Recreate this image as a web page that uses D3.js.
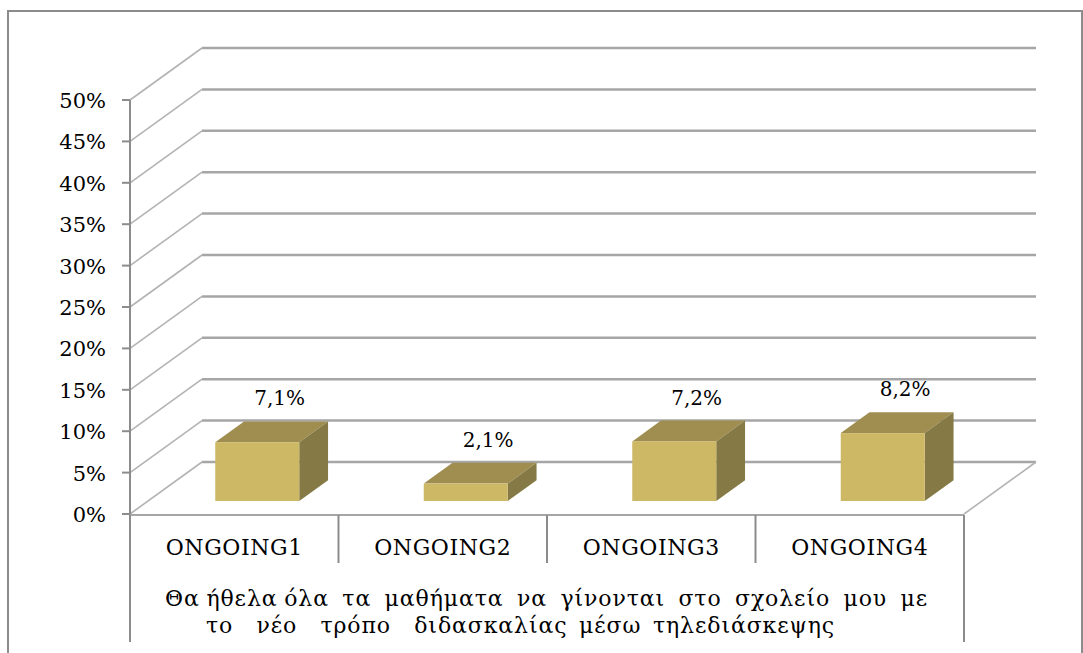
<!DOCTYPE html>
<html>
<head>
<meta charset="utf-8">
<script src="https://cdn.jsdelivr.net/npm/d3@7"></script>
<style>
  html, body { margin: 0; padding: 0; background: #fff; }
  svg { display: block; }
  .pre { white-space: pre; }
</style>
</head>
<body>
<svg id="chart" width="1083" height="653"></svg>
<script>
// ---- data ----
const categories = ["ONGOING1", "ONGOING2", "ONGOING3", "ONGOING4"];
const values = [0.071, 0.021, 0.072, 0.082];
const valueLabels = ["7,1%", "2,1%", "7,2%", "8,2%"];
const yTicks = [0, 0.05, 0.10, 0.15, 0.20, 0.25, 0.30, 0.35, 0.40, 0.45, 0.50];
const yTickLabels = ["0%", "5%", "10%", "15%", "20%", "25%", "30%", "35%", "40%", "45%", "50%"];
const groupLabel = [
  "Θα ήθελα όλα  τα  μαθήματα  να  γίνονται  στο  σχολείο  μου  με",
  "το  νέο  τρόπο  διδασκαλίας μέσω τηλεδιάσκεψης"
];

// ---- layout ----
const svg = d3.select("#chart");
const plotLeft = 130, plotRight = 964, plotTop = 100, plotBottom = 514;
const DX = 72, DY = -52;           // depth projection of the 3D box
const y = d3.scaleLinear().domain([0, 0.5]).range([plotBottom, plotTop]);
const x = d3.scaleBand().domain(categories).range([plotLeft, plotRight]);

// outer border
svg.append("rect").attr("x", 8).attr("y", 11).attr("width", 1074).attr("height", 660)
  .attr("fill", "none").attr("stroke", "#8c8c8c").attr("stroke-width", 2);

// back-wall gridlines
const g = svg.append("g");
g.selectAll("line.back").data(yTicks).join("line").attr("class", "back")
  .attr("x1", plotLeft + DX).attr("x2", plotRight + DX)
  .attr("y1", d => y(d) + DY).attr("y2", d => y(d) + DY)
  .attr("stroke", "#a6a6a6").attr("stroke-width", 2.5);
// left-wall diagonals
g.selectAll("line.side").data(yTicks).join("line").attr("class", "side")
  .attr("x1", plotLeft).attr("x2", plotLeft + DX)
  .attr("y1", d => y(d)).attr("y2", d => y(d) + DY)
  .attr("stroke", "#b3b3b3").attr("stroke-width", 1.6);
// floor right diagonal
g.append("line").attr("x1", plotRight).attr("y1", y(0)).attr("x2", plotRight + DX).attr("y2", y(0) + DY)
  .attr("stroke", "#b3b3b3").attr("stroke-width", 1.6);

// y axis
g.append("line").attr("x1", plotLeft).attr("x2", plotLeft).attr("y1", y(0.5)).attr("y2", 642)
  .attr("stroke", "#8c8c8c").attr("stroke-width", 2);
g.selectAll("line.tick").data(yTicks).join("line").attr("class", "tick")
  .attr("x1", plotLeft - 8).attr("x2", plotLeft).attr("y1", d => y(d)).attr("y2", d => y(d))
  .attr("stroke", "#8c8c8c").attr("stroke-width", 2);
g.selectAll("text.ytick").data(yTicks).join("text").attr("class", "ytick")
  .attr("x", 106).attr("y", d => y(d) + 8)
  .attr("text-anchor", "end")
  .attr("font-family", "DejaVu Serif, serif").attr("font-size", 21).attr("fill", "#000")
  .text((d, i) => yTickLabels[i]);

// category axis (front floor edge) and separators
g.append("line").attr("x1", plotLeft).attr("x2", plotRight).attr("y1", y(0) + 1).attr("y2", y(0) + 1)
  .attr("stroke", "#a6a6a6").attr("stroke-width", 2);
const edges = categories.map(c => x(c)).concat([plotRight]);
g.selectAll("line.sep").data(edges).join("line").attr("class", "sep")
  .attr("x1", d => d).attr("x2", d => d)
  .attr("y1", y(0) + 1)
  .attr("y2", (d, i) => (i === 0 || i === edges.length - 1) ? 642 : 563)
  .attr("stroke", "#8c8c8c").attr("stroke-width", 2);
g.selectAll("text.cat").data(categories).join("text").attr("class", "cat")
  .attr("x", d => x(d) + x.bandwidth() / 2).attr("y", 555)
  .attr("text-anchor", "middle")
  .attr("font-family", "DejaVu Serif, serif").attr("font-size", 22)
  .attr("letter-spacing", 0.6).attr("fill", "#000")
  .text(d => d);

// group label: slightly spaced glyphs, remaining width distributed over the spaces
const gl = [{t: groupLabel[0], x: 165, y: 606, w: 763}, {t: groupLabel[1], x: 206, y: 633, w: 629}];
g.selectAll("text.grp").data(gl).join("text")
  .attr("class", "grp pre")
  .attr("x", d => d.x).attr("y", d => d.y)
  .attr("font-family", "DejaVu Serif, serif").attr("font-size", 22)
  .attr("letter-spacing", 0.9).attr("fill", "#000")
  .text(d => d.t)
  .each(function(d) {
    const nat = this.getComputedTextLength();
    const spaces = (d.t.match(/ /g) || []).length;
    d3.select(this).attr("word-spacing", (d.w - nat) / spaces);
  });

// 3D bars
const d0 = 0.25, dd = 0.4, barW = 84, shift = 5;
const bars = categories.map((c, i) => {
  const x0 = x(c) + x.bandwidth() / 2 + shift + DX * d0 - barW / 2;
  const yt = y(values[i]) + DY * d0;
  const yb = y(0) + DY * d0;
  return {x0, yt, yb, i};
});
const bx = DX * dd, by = DY * dd;
const bg = svg.append("g");
bars.forEach(b => {
  bg.append("polygon")
    .attr("points", [[b.x0, b.yt], [b.x0 + barW, b.yt], [b.x0 + barW + bx, b.yt + by], [b.x0 + bx, b.yt + by]].join(" "))
    .attr("fill", "#a08e50");
  bg.append("polygon")
    .attr("points", [[b.x0 + barW, b.yt], [b.x0 + barW + bx, b.yt + by], [b.x0 + barW + bx, b.yb + by], [b.x0 + barW, b.yb]].join(" "))
    .attr("fill", "#857a45");
  bg.append("rect").attr("x", b.x0).attr("y", b.yt).attr("width", barW).attr("height", b.yb - b.yt)
    .attr("fill", "#cdb866");
  bg.append("text")
    .attr("x", b.x0 + barW / 2 + bx / 2 + 8).attr("y", b.yt + by - 16)
    .attr("text-anchor", "middle")
    .attr("font-family", "DejaVu Serif, serif").attr("font-size", 20).attr("fill", "#000")
    .text(valueLabels[b.i]);
});
</script>
</body>
</html>
